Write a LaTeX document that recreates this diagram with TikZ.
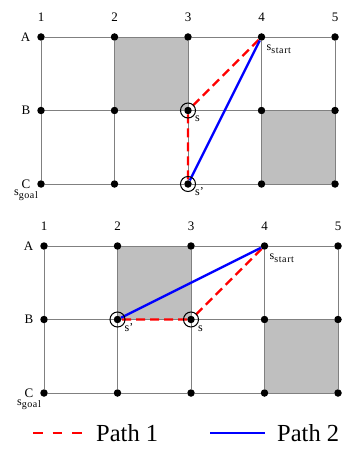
\documentclass[tikz,border=0pt]{standalone}
\usepackage{fontspec}
\setmainfont{Liberation Serif}
\usetikzlibrary{backgrounds}
\newcommand\lowtext[1]{\raisebox{-2.8pt}{\fontsize{10}{12}\selectfont\addfontfeature{LetterSpace=6}#1}}
\tikzset{
  gridline/.style={draw=gray, line width=0.9pt},
  blocked/.style={fill=gray!50},
  vertex/.style={circle, fill=black, inner sep=0pt, minimum size=7.5pt},
  ring/.style={draw=black, line width=1pt},
  lab/.style={font=\fontsize{13}{15}\selectfont, inner sep=0pt},
  slab/.style={font=\fontsize{12}{14}\selectfont, inner sep=0pt, anchor=base west},
  pathone/.style={draw=red, line width=2.4pt, dash pattern=on 9pt off 5pt},
  pathtwo/.style={draw=blue, line width=2.4pt},
  legtext/.style={font=\fontsize{24.5}{28}\selectfont, inner sep=0pt, anchor=west}
}

\begin{document}
\begin{tikzpicture}[x=1pt,y=-1pt]
  \useasboundingbox (0,0) rectangle (360,454);
  % the same grid twice, top and bottom
  \foreach \g/\ox/\oy in {t/41/37,b/44/246} {
    \foreach \r [count=\i from 0] in {A,B,C} {
      \foreach \c in {1,...,5} {
        \node[vertex] (\g\r\c) at ({\ox+73.5*(\c-1)},{\oy+73.5*\i}) {};
      }
      \node[lab, anchor=east] (\g row\r) at ([xshift=-10.5pt]\g\r1.center) {\r};
    }
    \foreach \c in {1,...,5} {
      \node[lab] (\g col\c) at ([yshift=20pt]\g A\c.center) {\c};
      \draw[gridline] (\g A\c) -- (\g B\c);
      \draw[gridline] (\g B\c) -- (\g C\c);
    }
    \foreach \r in {A,B,C} {
      \foreach \c [evaluate=\c as \n using int(\c+1)] in {1,...,4} {
        \draw[gridline] (\g\r\c) -- (\g\r\n);
      }
    }
    \begin{scope}[on background layer]
      \fill[blocked] (\g A2.center) rectangle (\g B3.center);
      \fill[blocked] (\g B4.center) rectangle (\g C5.center);
    \end{scope}
    \node[slab] (\g start) at ([xshift=5pt,yshift=-13.5pt]\g A4.center) {s\lowtext{start}};
    \node[slab, anchor=base east] (\g goal) at ([xshift=-3pt,yshift=-12pt]\g C1.center) {s\lowtext{goal}};
  }

  % top: s at B3, s' at C3
  \draw[pathone] (tA4) -- (tB3) -- (tC3);
  \draw[pathtwo] (tA4) -- (tC3);
  \draw[ring] (tB3) circle (7.5pt);
  \draw[ring] (tC3) circle (7.5pt);
  \node[slab] (ts) at ([xshift=7pt,yshift=-11.5pt]tB3.center) {s};
  \node[slab] (tsp) at ([xshift=7pt,yshift=-11.5pt]tC3.center) {s’};

  % bottom: s at B3, s' at B2
  \draw[pathone] (bA4) -- (bB3) -- (bB2);
  \draw[pathtwo] (bA4) -- (bB2);
  \draw[ring] (bB3) circle (7.5pt);
  \draw[ring] (bB2) circle (7.5pt);
  \node[slab] (bs) at ([xshift=7pt,yshift=-11.5pt]bB3.center) {s};
  \node[slab] (bsp) at ([xshift=7pt,yshift=-11.5pt]bB2.center) {s’};

  % legend
  \coordinate (leg1a) at (33,433);
  \coordinate (leg1b) at (82,433);
  \draw[pathone, dash pattern=on 9.7pt off 10pt] (leg1a) -- (leg1b);
  \node[legtext] (leg1) at (96,433) {Path 1};
  \coordinate (leg2a) at (210,433);
  \coordinate (leg2b) at (265,433);
  \draw[pathtwo] (leg2a) -- (leg2b);
  \node[legtext] (leg2) at (277,433) {Path 2};
\end{tikzpicture}
\end{document}
